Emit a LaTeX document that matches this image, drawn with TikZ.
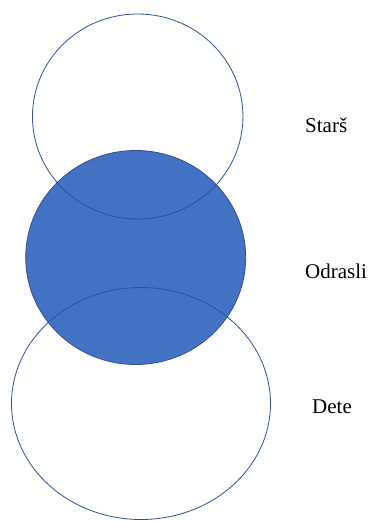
\documentclass[tikz,border=0pt]{standalone}
\usepackage{fontspec}
\setmainfont{Liberation Serif}
\usetikzlibrary{shapes.geometric}
\definecolor{fillblue}{HTML}{4472C4}
\definecolor{edgeblue}{HTML}{2F528F}
\begin{document}
\begin{tikzpicture}[x=1pt,y=-1pt,
  ring/.style={ellipse, draw=edgeblue, line width=0.8pt, inner sep=0pt},
  label/.style={anchor=base west, inner sep=0pt, font=\fontsize{21}{25}\selectfont, text=black}]
\useasboundingbox[fill=white] (0,0) rectangle (369,521);
\node[ring, fill=fillblue, minimum width=220pt, minimum height=214pt] (adult) at (135.7,257.5) {};
\node[ring, minimum width=210.5pt, minimum height=205pt] (parent) at (137.7,116.5) {};
\node[ring, minimum width=259pt, minimum height=232pt] (child) at (141,403.5) {};
\node[label] (tparent) at (305,133) {Starš};
\node[label] (tadult) at (305,278) {Odrasli};
\node[label] (tchild) at (312,413) {Dete};
\end{tikzpicture}
\end{document}
